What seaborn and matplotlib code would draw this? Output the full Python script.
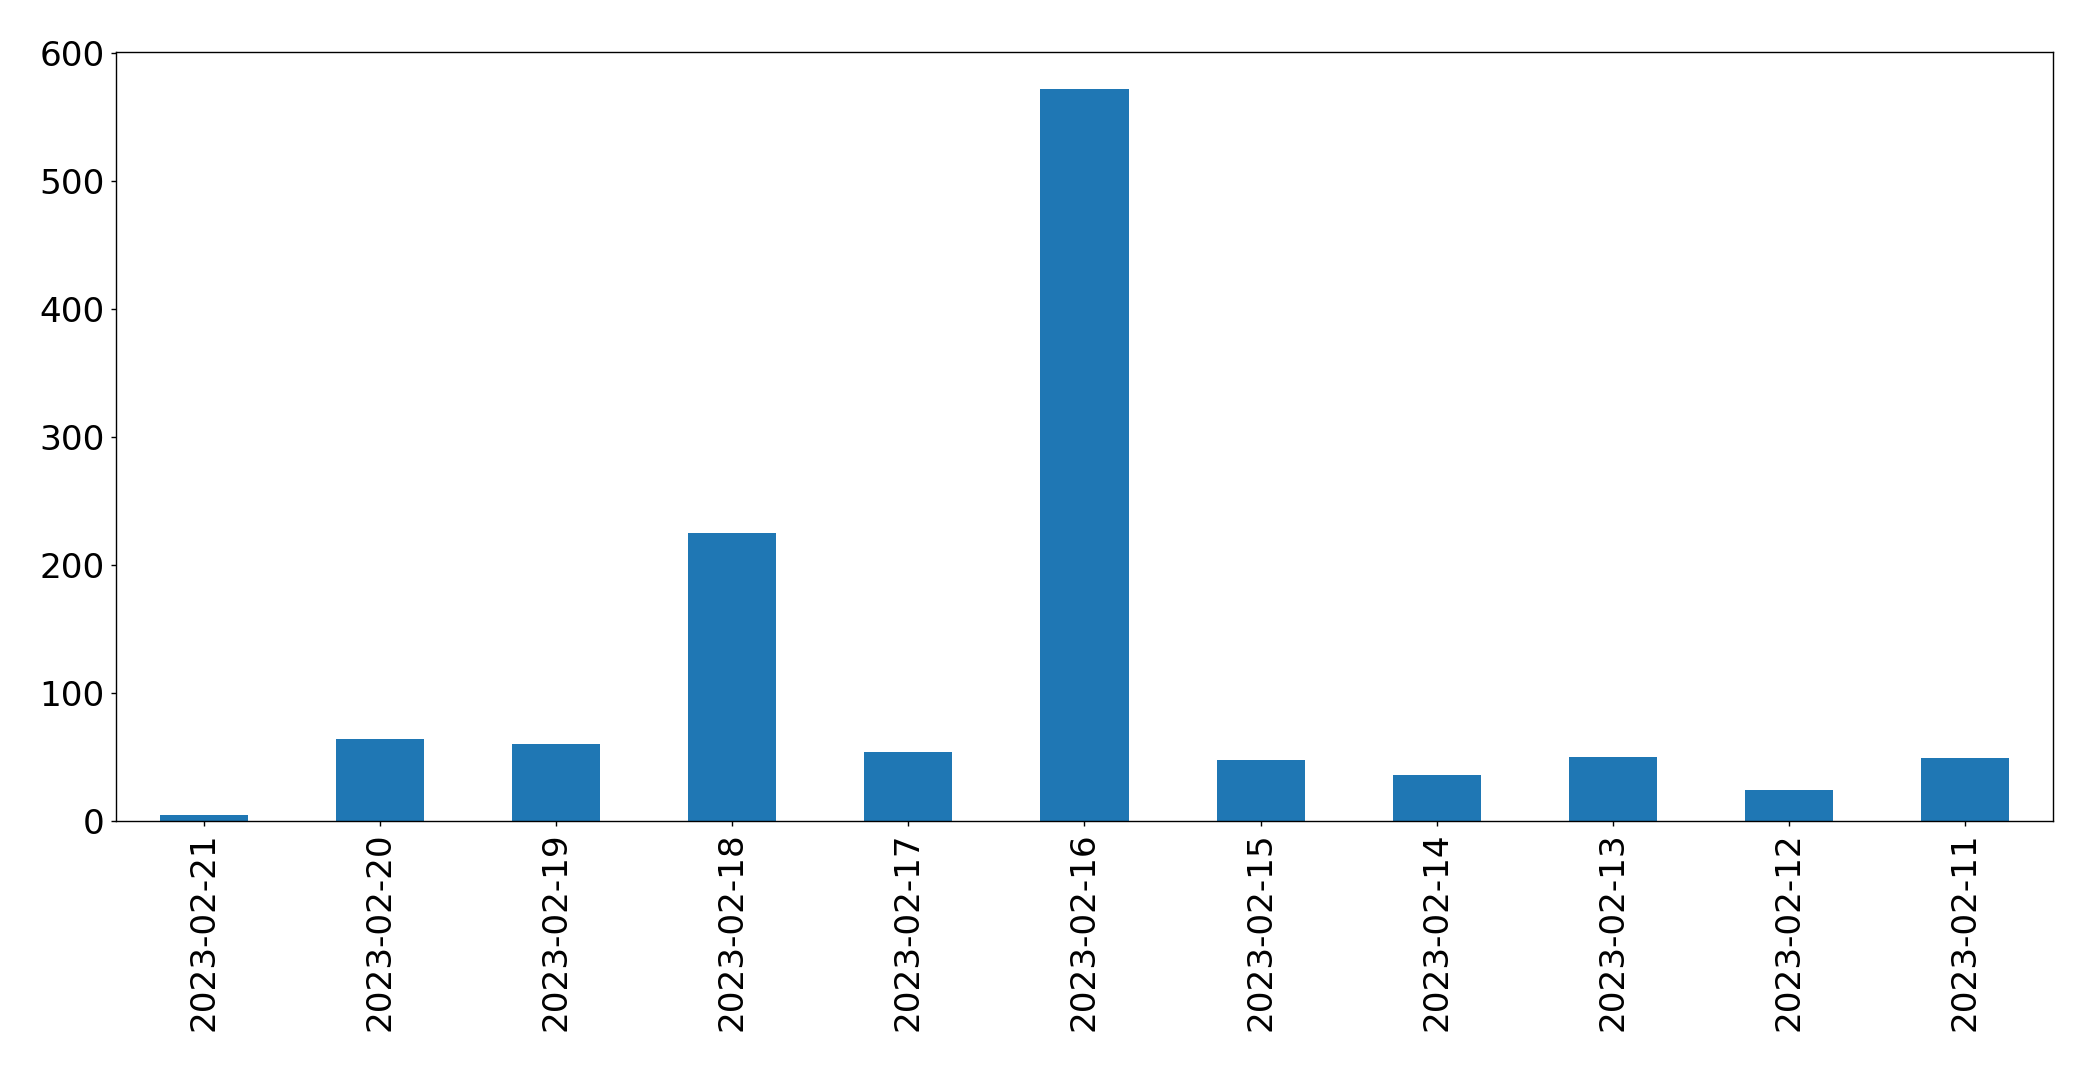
import matplotlib
matplotlib.use("Agg")
import matplotlib.pyplot as plt
import seaborn as sns
import pandas as pd

dates = ["2023-02-21", "2023-02-20", "2023-02-19", "2023-02-18", "2023-02-17",
         "2023-02-16", "2023-02-15", "2023-02-14", "2023-02-13", "2023-02-12",
         "2023-02-11"]
counts = [5, 64, 60, 225, 54, 572, 48, 36, 50, 24, 49]

df = pd.DataFrame({"date": dates, "count": counts})

fig, ax = plt.subplots(figsize=(20.93, 10.73), dpi=100)
fig.subplots_adjust(left=0.0554, right=0.9809, top=0.9515, bottom=0.2349)

sns.barplot(data=df, x="date", y="count", order=dates, color="#1f77b4",
            saturation=1, width=0.5, linewidth=0, ax=ax)

ax.set_xlim(-0.5, len(dates) - 0.5)
ax.set_ylim(0, max(counts) * 1.05)
ax.set_xlabel("")
ax.set_ylabel("")
for s in ax.spines.values():
    s.set_color("black")
    s.set_linewidth(1.0)
ax.tick_params(axis="both", labelsize=24.7, colors="black", width=1.0, pad=4.5)
plt.setp(ax.get_xticklabels(), rotation=90)

fig.savefig("out.png", dpi=100)
